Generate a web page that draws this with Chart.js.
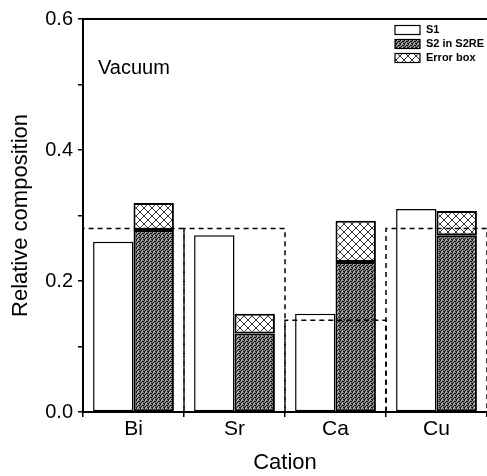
<!DOCTYPE html>
<html>
<head>
<meta charset="utf-8">
<script src="https://cdn.jsdelivr.net/npm/chart.js@4.4.0/dist/chart.umd.min.js"></script>
<style>
  body { margin: 0; background: #fff; }
  #box { width: 487px; height: 476px; }
</style>
</head>
<body>
<div id="box"><canvas id="chart" width="487" height="476"></canvas></div>
<script>
const categories = ["Bi", "Sr", "Ca", "Cu"];
const s1Values = [0.26, 0.27, 0.15, 0.31];
const s2Values = [0.278, 0.12, 0.229, 0.27];
const errorValues = [0.041, 0.03, 0.063, 0.037];
const expectedValues = [0.28, 0.28, 0.14, 0.28];
const seriesLabels = ["S1", "S2 in S2RE", "Error box"];

Chart.defaults.font.family = "'Liberation Sans', Arial, sans-serif";
Chart.defaults.color = "#000";

function makeStipple() {
    let c = document.createElement("canvas");
    c.width = 4; c.height = 4;
    let g = c.getContext("2d");
    g.fillStyle = "#808080";
    g.fillRect(0, 0, 4, 4);
    g.fillStyle = "#111";
    [[0, 0], [2, 1], [1, 2], [3, 3], [3, 1], [0, 3]].forEach(p => g.fillRect(p[0], p[1], 1, 1));
    g.fillStyle = "#c4c4c4";
    [[2, 3], [1, 0]].forEach(p => g.fillRect(p[0], p[1], 1, 1));
    return g.createPattern(c, "repeat");
}

function makeHatch() {
    let c = document.createElement("canvas");
    c.width = 8; c.height = 8;
    let g = c.getContext("2d");
    g.fillStyle = "#fff";
    g.fillRect(0, 0, 8, 8);
    g.strokeStyle = "#333";
    g.lineWidth = 1;
    g.beginPath();
    g.moveTo(0, 0); g.lineTo(8, 8);
    g.moveTo(8, 0); g.lineTo(0, 8);
    g.stroke();
    return g.createPattern(c, "repeat");
}

// dashed boxes for expected composition, top frame line, legend and label
const extras = {
    id: "extras",
    afterDatasetsDraw(chart) {
        let ctx = chart.ctx;
        let x = chart.scales.x, y = chart.scales.y;
        let w = x.getPixelForValue(1) - x.getPixelForValue(0);
        ctx.save();
        ctx.strokeStyle = "#000";
        ctx.lineWidth = 1.5;
        ctx.setLineDash([5, 4]);
        expectedValues.forEach((v, i) => {
            let cx = x.getPixelForValue(i);
            let top = y.getPixelForValue(v);
            let bot = y.getPixelForValue(0);
            ctx.beginPath();
            ctx.moveTo(cx - w / 2, bot);
            ctx.lineTo(cx - w / 2, top);
            ctx.lineTo(cx + w / 2, top);
            ctx.lineTo(cx + w / 2, bot);
            ctx.stroke();
        });
        ctx.restore();
    },
    afterDraw(chart) {
        let ctx = chart.ctx;
        let area = chart.chartArea;
        ctx.save();
        ctx.strokeStyle = "#000";
        ctx.lineWidth = 2;
        ctx.beginPath();
        ctx.moveTo(area.left, area.top);
        ctx.lineTo(area.right, area.top);
        ctx.stroke();

        ctx.fillStyle = "#000";
        ctx.textBaseline = "middle";
        ctx.font = "20px 'Liberation Sans', Arial, sans-serif";
        ctx.fillText("Vacuum", 98, 68);

        ctx.font = "bold 11px 'Liberation Sans', Arial, sans-serif";
        chart.data.datasets.forEach((ds, i) => {
            let yc = 30 + i * 14;
            ctx.fillStyle = ds.backgroundColor;
            ctx.fillRect(395, yc - 4.5, 25, 9);
            ctx.lineWidth = 1.2;
            ctx.strokeRect(395, yc - 4.5, 25, 9);
            ctx.fillStyle = "#000";
            ctx.fillText(ds.label, 426, yc);
        });
        ctx.restore();
    }
};

new Chart(document.getElementById("chart"), {
    type: "bar",
    data: {
        labels: categories,
        datasets: [
            { label: seriesLabels[0], data: s1Values, backgroundColor: "#fff", borderColor: "#000", borderWidth: 1.5, stack: "s1" },
            { label: seriesLabels[1], data: s2Values, backgroundColor: makeStipple(), borderColor: "#000", borderWidth: 2, stack: "s2" },
            { label: seriesLabels[2], data: errorValues, backgroundColor: makeHatch(), borderColor: "#000", borderWidth: 2, stack: "s2" }
        ]
    },
    options: {
        responsive: false,
        animation: false,
        layout: { padding: { top: 19, left: 0, right: 0, bottom: 0 } },
        datasets: { bar: { categoryPercentage: 0.8, barPercentage: 1, borderSkipped: false } },
        plugins: { legend: { display: false }, tooltip: { enabled: false } },
        scales: {
            x: {
                stacked: true,
                grid: { offset: true, drawOnChartArea: false, tickLength: 5, color: "#000", lineWidth: 1.5 },
                border: { color: "#000", width: 2 },
                ticks: { font: { size: 21 }, padding: 0 },
                title: { display: true, text: "Cation", font: { size: 22 }, padding: { top: 0, bottom: 0 } },
                afterFit: s => { s.height = 64; }
            },
            y: {
                stacked: true,
                min: 0,
                max: 0.6,
                grid: { drawOnChartArea: false, tickLength: 5, color: "#000", lineWidth: 1.5 },
                border: { color: "#000", width: 2 },
                ticks: {
                    stepSize: 0.1,
                    padding: 5,
                    font: { size: 20 },
                    callback: (v, i) => i % 2 === 0 ? v.toFixed(1) : ""
                },
                title: { display: true, text: "Relative composition", font: { size: 22 }, padding: { top: 8, bottom: 0 } },
                afterFit: s => { s.width = 83; }
            }
        }
    },
    plugins: [extras]
});
</script>
</body>
</html>
